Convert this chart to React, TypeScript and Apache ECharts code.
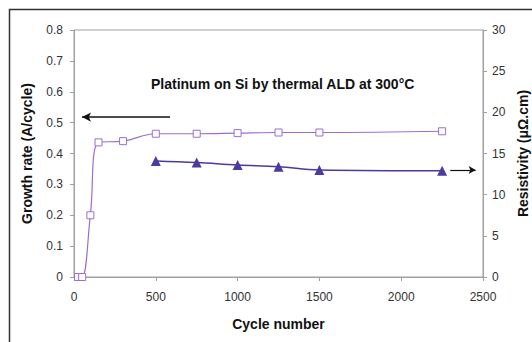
import React, { useEffect, useRef } from "react";
import * as echarts from "echarts";

const growthCycles = [25, 50, 100, 150, 300, 500, 750, 1000, 1250, 1500, 2250];
const growthRates = [0, 0, 0.2, 0.436, 0.44, 0.464, 0.464, 0.466, 0.468, 0.468, 0.472];
const resistCycles = [500, 750, 1000, 1250, 1500, 2250];
const resistValues = [14.1, 13.9, 13.6, 13.4, 13.0, 12.9];
const titleText = "Platinum on Si by thermal ALD at 300°C";
const xName = "Cycle number";
const yLeftName = "Growth rate (A/cycle)";
const yRightName = "Resistivity (μΩ.cm)";
const leftArrow = { from: [587, 0.518], to: [49, 0.518] };
const rightArrow = { from: [2300, 13.0], to: [2455, 13.0] };

const FONT = "Liberation Sans, Arial, sans-serif";

export default function App() {
  const ref = useRef<HTMLDivElement>(null);
  useEffect(() => {
    if (!ref.current) return;
    const chart = echarts.init(ref.current, undefined, { renderer: "svg" });
    const axisLabel = { color: "#333", fontFamily: FONT, fontSize: 12 };
    const nameStyle = { color: "#111", fontFamily: FONT, fontSize: 14, fontWeight: "bold" as const };
    chart.setOption({
      animation: false,
      backgroundColor: "#fff",
      textStyle: { fontFamily: FONT },
      graphic: [
        {
          type: "rect",
          shape: { x: 9.5, y: 9.5, width: 600, height: 400 },
          style: { fill: "none", stroke: "#333", lineWidth: 1.5 },
          silent: true,
        },
        {
          type: "text",
          left: 151,
          top: 77,
          style: {
            text: titleText,
            fontFamily: FONT,
            fontSize: 14,
            fontWeight: "bold",
            fill: "#111",
          },
        },
      ],
      grid: {
        left: 74,
        top: 30,
        right: 49,
        bottom: 65,
        show: true,
        borderColor: "#a0a0a0",
        borderWidth: 1,
        containLabel: false,
        outerBoundsMode: "none",
      },
      xAxis: {
        type: "value",
        min: 0,
        max: 2500,
        interval: 500,
        name: xName,
        nameLocation: "middle",
        nameGap: 40,
        nameTextStyle: nameStyle,
        axisLine: { lineStyle: { color: "#a0a0a0" } },
        axisTick: { show: true, length: 4, lineStyle: { color: "#a0a0a0" } },
        axisLabel: { ...axisLabel, margin: 14, formatter: (v: number) => String(v) },
        splitLine: { show: false },
      },
      yAxis: [
        {
          type: "value",
          min: 0,
          max: 0.8,
          interval: 0.1,
          name: yLeftName,
          nameLocation: "middle",
          nameGap: 40,
          nameTextStyle: nameStyle,
          axisLine: { show: true, lineStyle: { color: "#a0a0a0" } },
          axisTick: { show: true, length: 4, lineStyle: { color: "#a0a0a0" } },
          axisLabel: { ...axisLabel, margin: 11, formatter: (v: number) => String(Math.round(v * 10) / 10) },
          splitLine: { show: false },
        },
        {
          type: "value",
          position: "right",
          min: 0,
          max: 30,
          interval: 5,
          name: yRightName,
          nameLocation: "middle",
          nameGap: 32,
          nameRotate: 90,
          nameTextStyle: nameStyle,
          axisLine: { show: true, lineStyle: { color: "#a0a0a0" } },
          axisTick: { show: true, length: 4, lineStyle: { color: "#a0a0a0" } },
          axisLabel: { ...axisLabel, margin: 9 },
          splitLine: { show: false },
        },
      ],
      series: [
        {
          type: "line",
          name: "Growth rate",
          yAxisIndex: 0,
          data: growthCycles.map((c, i) => [c, growthRates[i]]),
          smooth: 0.4,
          symbol: "rect",
          symbolSize: 7,
          lineStyle: { color: "#9b6fd0", width: 1.2 },
          itemStyle: { color: "#fff", borderColor: "#9b6fd0", borderWidth: 1 },
          markLine: {
            silent: true,
            symbol: ["none", "arrow"],
            symbolSize: [7, 9],
            label: { show: false },
            lineStyle: { color: "#111", width: 1.5, type: "solid" },
            data: [[{ coord: leftArrow.from }, { coord: leftArrow.to }]],
          },
        },
        {
          type: "line",
          name: "Resistivity",
          yAxisIndex: 1,
          data: resistCycles.map((c, i) => [c, resistValues[i]]),
          smooth: 0.4,
          symbol: "triangle",
          symbolSize: 10,
          lineStyle: { color: "#4b3aa0", width: 1.5 },
          itemStyle: { color: "#4b3aa0" },
          markLine: {
            silent: true,
            symbol: ["none", "arrow"],
            symbolSize: [6, 7],
            label: { show: false },
            lineStyle: { color: "#111", width: 1.2, type: "solid" },
            data: [[{ coord: rightArrow.from }, { coord: rightArrow.to }]],
          },
        },
      ],
    });
    return () => chart.dispose();
  }, []);
  return <div ref={ref} style={{ width: 532, height: 342, position: "absolute", left: 0, top: 0 }} />;
}
